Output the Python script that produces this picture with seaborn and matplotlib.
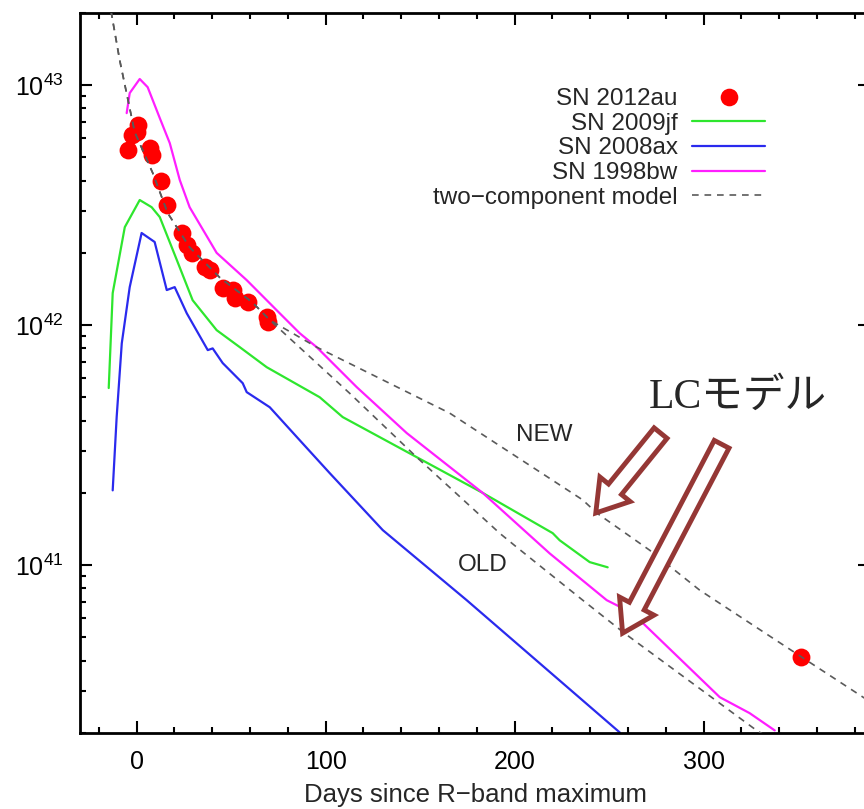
import numpy as np
import pandas as pd
import matplotlib
matplotlib.use("Agg")
import matplotlib.pyplot as plt
import matplotlib.ticker as mticker
from matplotlib.lines import Line2D
from matplotlib.patches import FancyArrowPatch
import seaborn as sns

# ---------------- data ----------------
sn2012au_days = [-4.8, -2.6, 0.5, 0.0, 6.9, 7.9, 12.7, 15.9, 23.8, 26.5, 29.1, 36.0,
                 38.6, 45.5, 50.8, 51.9, 58.7, 68.8, 69.3, 351.3]
sn2012au_lum = [5.36e42, 6.2e42, 6.8e42, 6.4e42, 5.47e42, 5.1e42, 3.98e42, 3.16e42, 2.42e42,
                2.15e42, 2.0e42, 1.75e42, 1.69e42, 1.43e42, 1.40e42, 1.30e42, 1.25e42,
                1.08e42, 1.03e42, 4.14e40]

sn2009jf_days = [-14.8, -12.7, -6.3, 1.6, 7.9, 12.2, 21.2, 29.6, 42.3, 54.5, 68.8, 96.8,
                 109.0, 148.1, 183.1, 220.1, 223.8, 239.7, 249.2]
sn2009jf_lum = [5.47e41, 1.36e42, 2.56e42, 3.32e42, 3.10e42, 2.82e42, 1.87e42, 1.27e42,
                9.53e41, 8.1e41, 6.68e41, 5.01e41, 4.14e41, 2.82e41, 2.0e41, 1.36e41,
                1.27e41, 1.03e41, 9.8e40]

sn2008ax_days = [-12.7, -10.6, -7.9, -3.7, 2.6, 9.5, 15.9, 20.1, 26.5, 37.6, 40.2, 45.5,
                 56.1, 58.2, 70.4, 86.2, 102.1, 130.2, 174.6, 255.6]
sn2008ax_lum = [2.05e41, 4.14e41, 8.4e41, 1.44e42, 2.42e42, 2.22e42, 1.40e42, 1.44e42,
                1.12e42, 7.87e41, 8.0e41, 6.95e41, 5.73e41, 5.26e41, 4.55e41, 3.32e41,
                2.42e41, 1.40e41, 7.15e40, 2.01e40]

sn1998bw_days = [-5.3, -3.7, 1.6, 5.8, 12.2, 17.5, 22.8, 28.0, 42.3, 58.2, 75.7, 86.2,
                 95.2, 116.4, 142.9, 183.1, 218.5, 248.7, 262.4, 308.5, 324.3, 337.6]
sn1998bw_lum = [7.64e42, 9.26e42, 1.06e43, 9.8e42, 7.29e42, 5.73e42, 4.02e42, 3.10e42,
                2.0e42, 1.54e42, 1.12e42, 9.26e41, 8.1e41, 5.52e41, 3.55e41, 2.0e41,
                1.12e41, 7.15e40, 6.31e40, 2.82e40, 2.42e40, 2.05e40]

model_common_days = [-15.0, -9.0, -1.06, 8.5, 16.4, 28.0, 43.9, 61.4, 70.4]
model_common_lum = [2.35e43, 1.27e43, 6.37e42, 4.30e42, 2.93e42, 2.11e42, 1.58e42,
                    1.24e42, 1.05e42]
model_new_days = [95.2, 165.6, 236.0, 243.4, 271.4, 297.9, 351.9, 388.0]
model_new_lum = [8.1e41, 4.30e41, 1.87e41, 1.65e41, 1.155e41, 7.87e40, 4.14e40, 2.7e40]
model_old_days = [112.7, 148.1, 192.0, 201.0, 236.0, 258.2, 328.0, 340.0]
model_old_lum = [5.2e41, 2.82e41, 1.36e41, 1.19e41, 7.15e40, 5.2e40, 2.05e40, 1.8e40]

series_labels = ["SN 2012au", "SN 2009jf", "SN 2008ax", "SN 1998bw", "two\u2212component model"]
x_ticks = [0, 100, 200, 300]

# ---------------- style ----------------
sns.set_style("ticks")
plt.rcParams["font.family"] = ["Liberation Sans", "DejaVu Sans"]
plt.rcParams["mathtext.fontset"] = "custom"
plt.rcParams["mathtext.rm"] = "Liberation Sans"
plt.rcParams["mathtext.it"] = "Liberation Sans:italic"
plt.rcParams["mathtext.bf"] = "Liberation Sans:bold"

W, H = 864, 809
fig = plt.figure(figsize=(W / 100, H / 100), dpi=100)
ax_l, ax_r, ax_t, ax_b = 80, 870, 12.8, 733
ax = fig.add_axes([ax_l / W, 1 - ax_b / H, (ax_r - ax_l) / W, (ax_b - ax_t) / H])

colors = {"SN 2009jf": "#2ee62e", "SN 2008ax": "#2a2aee", "SN 1998bw": "#ff1eff"}

lines_df = pd.concat([
    pd.DataFrame({"day": sn2009jf_days, "lum": sn2009jf_lum, "sn": "SN 2009jf"}),
    pd.DataFrame({"day": sn2008ax_days, "lum": sn2008ax_lum, "sn": "SN 2008ax"}),
    pd.DataFrame({"day": sn1998bw_days, "lum": sn1998bw_lum, "sn": "SN 1998bw"}),
], ignore_index=True)

model_df = pd.concat([
    pd.DataFrame({"day": model_common_days + model_new_days,
                  "lum": model_common_lum + model_new_lum, "branch": "NEW"}),
    pd.DataFrame({"day": model_common_days + model_old_days,
                  "lum": model_common_lum + model_old_lum, "branch": "OLD"}),
], ignore_index=True)

dots_df = pd.DataFrame({"day": sn2012au_days, "lum": sn2012au_lum})

ax.set_yscale("log")
sns.lineplot(data=lines_df, x="day", y="lum", hue="sn", palette=colors, sort=False,
             estimator=None, legend=False, ax=ax, linewidth=1.6, zorder=2)
sns.scatterplot(data=dots_df, x="day", y="lum", color="#ff0000", s=165, linewidth=0,
                legend=False, ax=ax, zorder=3)
sns.lineplot(data=model_df, x="day", y="lum", units="branch", estimator=None, sort=False,
             color="#5a5a5a", linewidth=1.2, linestyle=(0, (4, 3.5)), legend=False,
             ax=ax, zorder=4)

ax.set_xlim(-30, 388)
ax.set_ylim(2e40, 2e43)

# ticks
ax.xaxis.set_major_locator(mticker.FixedLocator(x_ticks))
ax.xaxis.set_minor_locator(mticker.MultipleLocator(20))
ax.yaxis.set_major_locator(mticker.LogLocator(base=10, numticks=10))
ax.yaxis.set_minor_locator(mticker.LogLocator(base=10, subs=np.arange(2, 10), numticks=20))
ax.yaxis.set_minor_formatter(mticker.NullFormatter())
ax.tick_params(which="both", direction="in", top=True, right=True, width=1.5,
               colors="black", labelsize=18)
ax.tick_params(which="major", length=8.6, pad=12)
ax.tick_params(which="minor", length=4.3)
ax.tick_params(axis="x", which="major", pad=12)
for s in ax.spines.values():
    s.set_linewidth(2)
    s.set_color("black")

ax.set_xlabel("Days since R\u2212band maximum", fontsize=18.5, labelpad=7)
ax.set_ylabel("")

# annotations
ax.text(215.9, 3.48e41, "NEW", fontsize=17.5, ha="center", va="center")
ax.text(183.1, 1.0e41, "OLD", fontsize=17.5, ha="center", va="center")
ax.text(318, 4.97e41, "LCモデル", fontsize=30, ha="center", va="center",
        family=["Liberation Serif", "Noto Sans CJK JP"])

brown = "#953735"
for (x0, y0), (x1, y1) in [((277.2, 3.55e41), (242.9, 1.65e41)),
                           ((309.5, 3.19e41), (257.1, 5.21e40))]:
    arr = FancyArrowPatch((x0, y0), (x1, y1), transform=ax.transData,
                          arrowstyle="simple,head_length=22,head_width=28,tail_width=12",
                          mutation_scale=1, shrinkA=0, shrinkB=0,
                          facecolor="white", edgecolor=brown, linewidth=3.5,
                          joinstyle="miter", zorder=6)
    ax.add_patch(arr)

# legend
handles = [
    Line2D([], [], marker="o", color="#ff0000", linestyle="none", markersize=12.7,
           markeredgewidth=0),
    Line2D([], [], color=colors["SN 2009jf"], linewidth=1.6),
    Line2D([], [], color=colors["SN 2008ax"], linewidth=1.6),
    Line2D([], [], color=colors["SN 1998bw"], linewidth=1.6),
    Line2D([], [], color="#5a5a5a", linewidth=1.2, linestyle=(0, (4, 3.5))),
]
leg = ax.legend(handles, series_labels, loc="upper right",
                bbox_to_anchor=(765 / W, 1 - 88 / H), bbox_transform=fig.transFigure,
                frameon=False, markerfirst=False, fontsize=17.5, borderpad=0,
                borderaxespad=0, handlelength=3.0, handletextpad=0.6,
                labelspacing=0.11)

fig.savefig("out.png", dpi=100)
